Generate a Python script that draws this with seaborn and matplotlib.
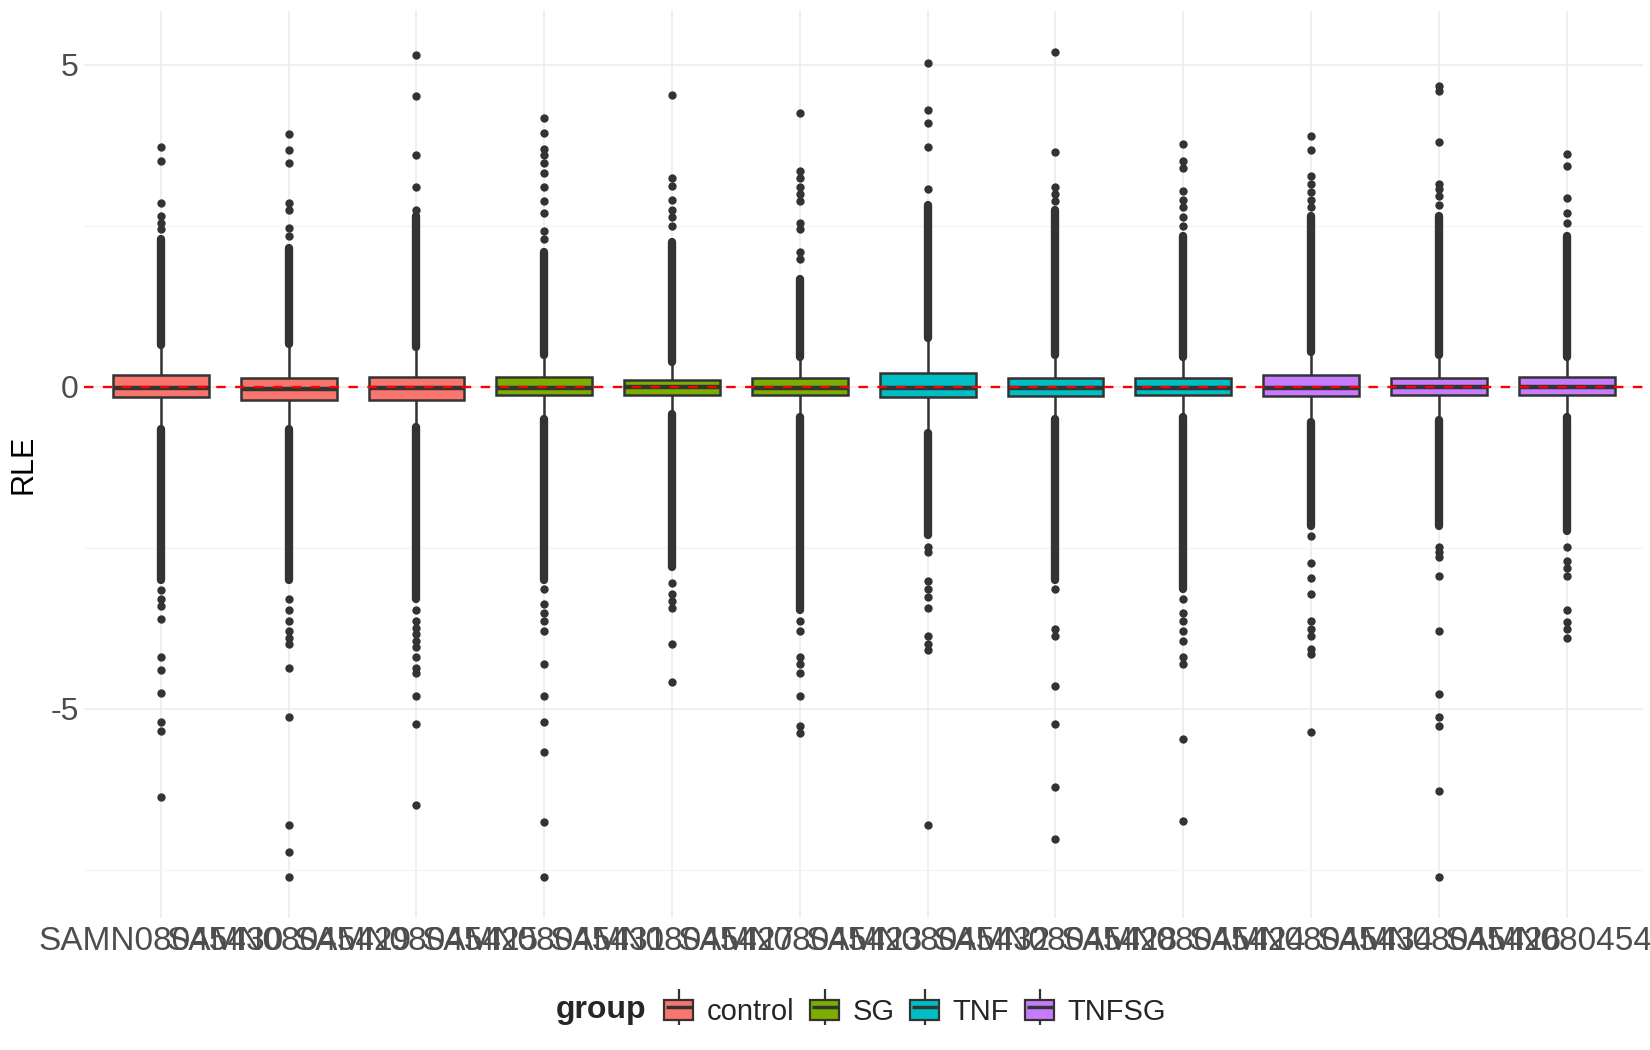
import numpy as np
import pandas as pd
import matplotlib
matplotlib.use('Agg')
import matplotlib.pyplot as plt
from matplotlib.lines import Line2D
from matplotlib.patches import Patch, Rectangle
from matplotlib.legend_handler import HandlerTuple, HandlerPatch
import seaborn as sns

# samples in plotting order
samples = ['SAMN08045430', 'SAMN08045429', 'SAMN08045425', 'SAMN08045431',
           'SAMN08045427', 'SAMN08045423', 'SAMN08045432', 'SAMN08045428',
           'SAMN08045424', 'SAMN08045434', 'SAMN08045426', 'SAMN08045433']
groups = ['control'] * 3 + ['SG'] * 3 + ['TNF'] * 3 + ['TNFSG'] * 3
group_levels = ['control', 'SG', 'TNF', 'TNFSG']
group_colors = ['#F8766D', '#7CAE00', '#00BFC4', '#C77CFF']

# five-number summaries
whis_lo = [-0.62, -0.64, -0.60, -0.48, -0.40, -0.45, -0.70, -0.50, -0.45, -0.52, -0.50, -0.45]
q1 = [-0.16, -0.20, -0.20, -0.13, -0.12, -0.13, -0.16, -0.15, -0.13, -0.15, -0.12, -0.12]
med = [-0.02, -0.03, -0.02, -0.02, -0.01, -0.02, -0.02, -0.02, -0.02, -0.02, -0.01, -0.01]
q3 = [0.18, 0.13, 0.16, 0.15, 0.10, 0.13, 0.21, 0.13, 0.13, 0.18, 0.13, 0.15]
whis_hi = [0.62, 0.64, 0.60, 0.48, 0.37, 0.45, 0.74, 0.48, 0.45, 0.52, 0.48, 0.45]

# ranges where outliers are so dense they form a solid column
dense_up_lo = [0.65, 0.66, 0.62, 0.50, 0.39, 0.47, 0.76, 0.50, 0.47, 0.54, 0.50, 0.47]
dense_up_hi = [2.30, 2.15, 2.66, 2.10, 2.25, 1.68, 2.83, 2.75, 2.34, 2.66, 2.66, 2.34]
dense_dn_hi = [-0.65, -0.66, -0.62, -0.50, -0.42, -0.47, -0.72, -0.50, -0.47, -0.54, -0.52, -0.47]
dense_dn_lo = [-3.00, -3.00, -3.30, -3.00, -2.80, -3.46, -2.30, -3.00, -3.14, -2.16, -2.16, -2.24]

# sparse outliers
out_1 = [2.45, 2.55, 2.65, 2.85, 3.50, 3.72, -3.15, -3.30, -3.40, -3.60, -4.20, -4.40, -4.75, -5.20, -5.35, -6.37]
out_2 = [2.34, 2.47, 2.75, 2.86, 3.48, 3.68, 3.92, -3.30, -3.46, -3.63, -3.80, -3.90, -3.99, -4.36, -5.13, -6.81, -7.22, -7.61]
out_3 = [2.75, 3.10, 3.60, 4.51, 5.16, -3.46, -3.63, -3.74, -3.84, -3.95, -4.04, -4.20, -4.36, -4.44, -4.80, -5.23, -6.49]
out_4 = [2.29, 2.42, 2.70, 2.88, 3.10, 3.32, 3.48, 3.60, 3.69, 3.94, 4.18, -3.14, -3.38, -3.51, -3.63, -3.80, -4.31, -4.80, -5.21, -5.67, -6.76, -7.61]
out_5 = [2.50, 2.63, 2.75, 2.90, 3.12, 3.24, 4.54, -3.05, -3.22, -3.33, -3.43, -3.99, -4.58]
out_6 = [1.98, 2.10, 2.45, 2.55, 2.88, 2.99, 3.10, 3.24, 3.35, 4.25, -3.63, -3.80, -4.20, -4.31, -4.44, -4.80, -5.26, -5.38]
out_7 = [3.07, 3.73, 4.10, 4.30, 5.03, -2.48, -2.57, -3.02, -3.14, -3.27, -3.43, -3.87, -3.99, -4.08, -6.81]
out_8 = [2.88, 2.99, 3.10, 3.64, 5.20, -3.14, -3.76, -3.87, -4.64, -5.23, -6.21, -7.03]
out_9 = [2.50, 2.63, 2.79, 2.90, 3.04, 3.40, 3.51, 3.77, -3.30, -3.51, -3.63, -3.80, -3.95, -4.20, -4.31, -5.47, -6.75]
out_10 = [2.79, 2.90, 3.02, 3.15, 3.27, 3.68, 3.89, -2.32, -2.73, -2.97, -3.22, -3.63, -3.76, -3.87, -4.07, -4.15, -5.36]
out_11 = [2.83, 2.96, 3.07, 3.15, 3.81, 4.59, 4.67, -2.48, -2.57, -2.65, -2.94, -3.80, -4.77, -5.13, -5.26, -6.27, -7.61]
out_12 = [2.55, 2.70, 2.94, 3.43, 3.61, -2.48, -2.70, -2.81, -2.94, -3.46, -3.66, -3.76, -3.90]
outliers = [out_1, out_2, out_3, out_4, out_5, out_6, out_7, out_8, out_9, out_10, out_11, out_12]

sns.set_theme(style='whitegrid')
plt.rcParams['font.family'] = ['Liberation Sans', 'DejaVu Sans']
plt.rcParams['axes.unicode_minus'] = False

ink = '#333333'
txt = '#4D4D4D'

# table for the boxes: the five numbers per sample, whiskers to min/max
box_df = pd.DataFrame({
    'sample': np.repeat(samples, 5),
    'group': np.repeat(groups, 5),
    'RLE': np.column_stack([whis_lo, q1, med, q3, whis_hi]).ravel(),
})
out_df = pd.DataFrame({
    'sample': [s for s, o in zip(samples, outliers) for _ in o],
    'RLE': [v for o in outliers for v in o],
})

fig = plt.figure(figsize=(16.5, 10.5), dpi=100)
ax = fig.add_axes([0.051, 0.1257, 0.945, 0.864])

xpos = np.arange(len(samples))
ax.vlines(xpos, dense_up_lo, dense_up_hi, color=ink, lw=6, capstyle='round', zorder=3)
ax.vlines(xpos, dense_dn_lo, dense_dn_hi, color=ink, lw=6, capstyle='round', zorder=3)

sns.boxplot(data=box_df, x='sample', y='RLE', hue='group', order=samples,
            hue_order=group_levels, palette=group_colors, saturation=1, dodge=False,
            width=0.75, whis=np.inf, showfliers=False, showcaps=False, linewidth=1.8,
            linecolor=ink, medianprops={'linewidth': 3.2, 'color': ink},
            legend=False, ax=ax, zorder=4)

sns.stripplot(data=out_df, x='sample', y='RLE', order=samples, jitter=False,
              color=ink, size=6, linewidth=0, ax=ax, zorder=3)

ax.axhline(0, color='red', ls=(0, (4, 4)), lw=1.7, zorder=6)

ax.set_xlim(-0.6, 11.6)
ax.set_ylim(-8.25, 5.84)
ax.set_yticks([-5, 0, 5])
ax.set_yticks([-7.5, -2.5, 2.5], minor=True)
ax.grid(which='major', color='#EBEBEB', lw=1.1)
ax.grid(which='minor', axis='y', color='#F4F4F4', lw=0.9)
ax.set_axisbelow(True)
for sp in ax.spines.values():
    sp.set_visible(False)
ax.tick_params(axis='both', which='both', length=0, labelsize=23, labelcolor=txt)
ax.tick_params(axis='x', labelsize=24, pad=6)
ax.tick_params(axis='y', pad=4)
ax.set_xlabel('')
ax.set_ylabel('')
fig.text(23 / 1650, 0.558, 'RLE', rotation=90, ha='center', va='center', fontsize=22, color='black')


# legend key: a box a bit shorter than the key, whisker line through it
def key_box(legend, orig_handle, xdescent, ydescent, width, height, fontsize):
    return Rectangle((-xdescent, -ydescent + height * 0.18), width, height * 0.64)


handles = []
for c in group_colors:
    handles.append((Line2D([], [], color=ink, marker='|', markersize=26, mew=1.6, ls='none'),
                    Patch(facecolor=c, edgecolor=ink, linewidth=1.6),
                    Line2D([], [], color=ink, marker='_', markersize=19, mew=2.5, ls='none')))
fig.text(556 / 1650, 0.038, 'group', fontsize=23, fontweight='bold', ha='left', va='center')
fig.legend(handles, group_levels,
           handler_map={tuple: HandlerTuple(ndivide=1), Patch: HandlerPatch(patch_func=key_box)},
           loc='center left', bbox_to_anchor=(664 / 1650, 0.038), ncol=4, frameon=False,
           fontsize=21, handlelength=1.0, handleheight=1.3, handletextpad=0.45,
           columnspacing=0.55, borderaxespad=0, borderpad=0)

fig.savefig('out.png', dpi=100, facecolor='white')
